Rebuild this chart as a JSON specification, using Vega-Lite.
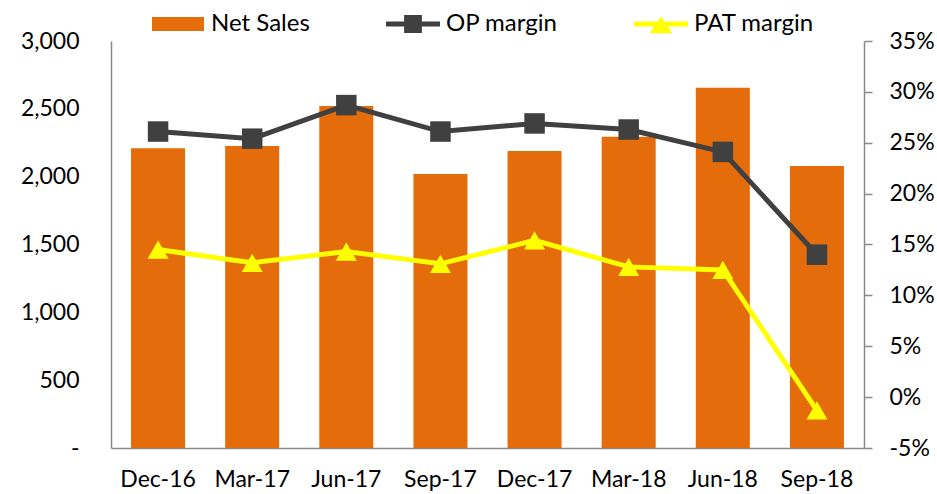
{
  "$schema": "https://vega.github.io/schema/vega-lite/v6.json",
  "width": 753,
  "height": 407,
  "autosize": {"type": "none"},
  "padding": {"left": 111, "top": 41, "right": 73, "bottom": 46},
  "background": "#ffffff",
  "config": {
    "view": {"stroke": null},
    "font": "Lato",
    "axis": {
      "labelFont": "Lato",
      "labelFontSize": 23,
      "labelColor": "#000000",
      "domainColor": "#898989",
      "domainWidth": 1.5,
      "tickColor": "#898989",
      "tickWidth": 1.5,
      "grid": false,
      "title": null
    },
    "legend": {"labelFont": "Lato", "labelFontSize": 24, "labelColor": "#000000"}
  },
  "data": {
    "values": [
      {"period": "Dec-16", "Net Sales": 2209, "OP margin": 0.261, "PAT margin": 0.145},
      {"period": "Mar-17", "Net Sales": 2226, "OP margin": 0.254, "PAT margin": 0.132},
      {"period": "Jun-17", "Net Sales": 2521, "OP margin": 0.287, "PAT margin": 0.143},
      {"period": "Sep-17", "Net Sales": 2020, "OP margin": 0.261, "PAT margin": 0.131},
      {"period": "Dec-17", "Net Sales": 2189, "OP margin": 0.269, "PAT margin": 0.154},
      {"period": "Mar-18", "Net Sales": 2295, "OP margin": 0.263, "PAT margin": 0.128},
      {"period": "Jun-18", "Net Sales": 2656, "OP margin": 0.241, "PAT margin": 0.125},
      {"period": "Sep-18", "Net Sales": 2079, "OP margin": 0.140, "PAT margin": -0.013}
    ]
  },
  "encoding": {
    "x": {
      "field": "period",
      "type": "nominal",
      "sort": null,
      "scale": {"paddingInner": 0.426, "paddingOuter": 0.213},
      "axis": {"labelAngle": 0, "ticks": false, "tickSize": 0, "labelPadding": 20, "domain": true}
    }
  },
  "layer": [
    {
      "mark": {"type": "bar"},
      "encoding": {
        "y": {
          "field": "Net Sales",
          "type": "quantitative",
          "scale": {"domain": [0, 3000], "nice": false, "zero": true},
          "axis": {
            "orient": "left",
            "values": [0, 500, 1000, 1500, 2000, 2500, 3000],
            "ticks": false,
            "tickSize": 0,
            "labelPadding": 32,
            "labelExpr": "datum.value === 0 ? '-\u2002' : format(datum.value, ',')"
          }
        },
        "color": {
          "datum": "Net Sales",
          "type": "nominal",
          "scale": {
            "domain": ["Net Sales", "OP margin", "PAT margin"],
            "range": ["#E46C0A", "#404040", "#FFFF00"]
          },
          "legend": {
            "orient": "none",
            "legendX": 40,
            "legendY": -44,
            "direction": "horizontal",
            "title": null,
            "padding": 0,
            "symbolSize": 2916,
            "symbolStrokeWidth": 0,
            "labelOffset": 6,
            "columnPadding": 76,
            "encoding": {
              "symbols": {
                "shape": {
                  "condition": [
                    {"test": "datum.value === 'Net Sales'", "value": "M-0.963,-0.26H0.963V0.26H-0.963Z"},
                    {"test": "datum.value === 'OP margin'", "value": "M-1,-0.093H1V0.093H-1Z M-0.33,-0.33H0.33V0.33H-0.33Z"}
                  ],
                  "value": "M-1,-0.093H1V0.093H-1Z M0,-0.28L0.426,0.34L-0.426,0.34Z"
                },
                "fill": {
                  "condition": [
                    {"test": "datum.value === 'Net Sales'", "value": "#E46C0A"},
                    {"test": "datum.value === 'OP margin'", "value": "#404040"}
                  ],
                  "value": "#FFFF00"
                },
                "stroke": {"value": "transparent"},
                "opacity": {"value": 1},
                "fillOpacity": {"value": 1}
              }
            }
          }
        }
      }
    },
    {
      "layer": [
        {
          "mark": {"type": "line", "strokeWidth": 5, "interpolate": "linear"},
          "encoding": {
            "y": {
              "field": "OP margin",
              "type": "quantitative",
              "scale": {"domain": [-0.05, 0.35], "nice": false, "zero": false},
              "axis": {
                "orient": "right",
                "values": [-0.05, 0, 0.05, 0.1, 0.15, 0.2, 0.25, 0.3, 0.35],
                "ticks": true,
                "tickSize": 8,
                "labelPadding": 17,
                "labelExpr": "round(datum.value * 100) + '%'"
              }
            },
            "color": {"datum": "OP margin", "type": "nominal"}
          }
        },
        {
          "mark": {"type": "point", "shape": "square", "size": 420, "filled": true, "opacity": 1},
          "encoding": {
            "y": {"field": "OP margin", "type": "quantitative"},
            "color": {"datum": "OP margin", "type": "nominal"}
          }
        },
        {
          "mark": {"type": "line", "strokeWidth": 5, "interpolate": "linear"},
          "encoding": {
            "y": {"field": "PAT margin", "type": "quantitative"},
            "color": {"datum": "PAT margin", "type": "nominal"}
          }
        },
        {
          "mark": {"type": "point", "shape": "triangle-up", "size": 441, "filled": true, "opacity": 1},
          "encoding": {
            "y": {"field": "PAT margin", "type": "quantitative"},
            "color": {"datum": "PAT margin", "type": "nominal"}
          }
        }
      ]
    }
  ],
  "resolve": {"scale": {"y": "independent"}}
}
